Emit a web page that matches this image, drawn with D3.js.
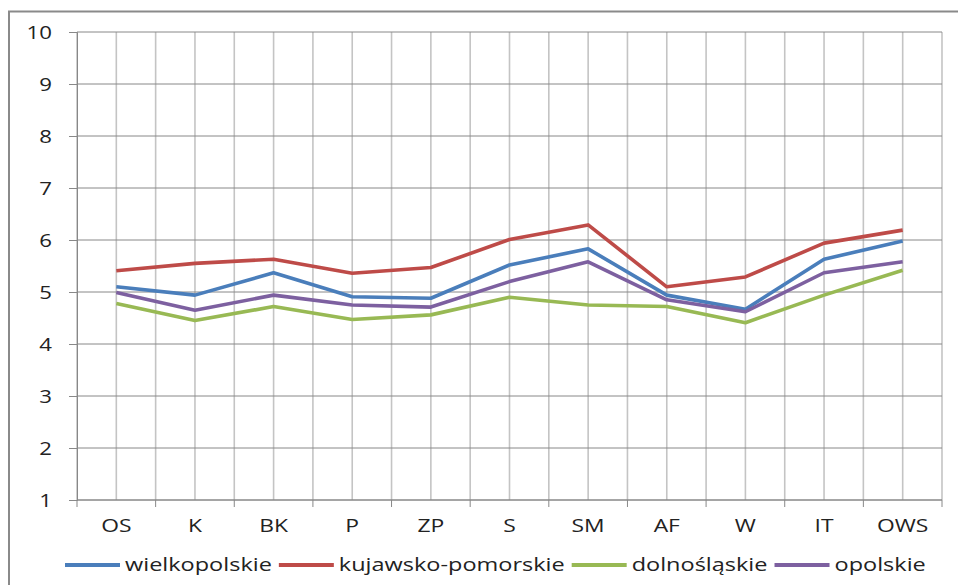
<!DOCTYPE html>
<html>
<head>
<meta charset="utf-8">
<script src="https://cdn.jsdelivr.net/npm/d3@7"></script>
<style>
  body { margin: 0; background: #fff; }
  text { font-family: "Open Sans", "DejaVu Sans", sans-serif; fill: #222; }
</style>
</head>
<body>
<script>
var width = 958,
    height = 585;

// categories and series
var categories = ["OS", "K", "BK", "P", "ZP", "S", "SM", "AF", "W", "IT", "OWS"];
var yTicks = [1, 2, 3, 4, 5, 6, 7, 8, 9, 10];

var wielkopolskie     = [5.10, 4.94, 5.37, 4.91, 4.88, 5.52, 5.83, 4.94, 4.67, 5.63, 5.98];
var kujawskoPomorskie = [5.41, 5.55, 5.63, 5.36, 5.47, 6.01, 6.29, 5.10, 5.29, 5.94, 6.19];
var dolnoslaskie      = [4.78, 4.45, 4.72, 4.47, 4.56, 4.90, 4.75, 4.72, 4.41, 4.94, 5.42];
var opolskie          = [4.99, 4.65, 4.94, 4.75, 4.71, 5.20, 5.58, 4.85, 4.62, 5.37, 5.58];

var seriesNames  = ["wielkopolskie", "kujawsko-pomorskie", "dolnośląskie", "opolskie"];
var seriesColors = ["#4a7ebb", "#be4b48", "#98b954", "#7d60a0"];
var series = [wielkopolskie, kujawskoPomorskie, dolnoslaskie, opolskie];

// the original text looks stretched sideways
var stretch = 1.27;
function widen(sel){
    sel.each(function(){
        var w = this.getComputedTextLength();
        d3.select(this)
            .attr("data-w", w * stretch)
            .attr("textLength", w * stretch)
            .attr("lengthAdjust", "spacingAndGlyphs");
    });
}

var svg = d3.select("body").append("svg")
    .attr("width", width)
    .attr("height", height);

// outer chart frame (only top and left edges are inside the picture)
svg.append("path")
    .attr("d", "M9,585 L9,11.5 L958,11.5")
    .attr("fill", "none")
    .attr("stroke", "#8a8a8a")
    .attr("stroke-width", 2);

var pLeft = 77, pRight = 942, pTop = 32, pBottom = 500;

var x = d3.scaleBand()
    .domain(categories)
    .range([pLeft, pRight]);

var y = d3.scaleLinear()
    .domain([1, 10])
    .range([pBottom, pTop]);

// vertical grid: category boundaries and centres
var vx = [];
categories.forEach(function(c){ vx.push(x(c)); vx.push(x(c) + x.bandwidth()/2); });
vx.push(pRight);

svg.append("g").selectAll("line")
    .data(vx)
    .enter().append("line")
    .attr("x1", d => d).attr("x2", d => d)
    .attr("y1", pTop).attr("y2", pBottom)
    .attr("stroke", "#c4c4c4")
    .attr("stroke-width", 1.6);

// horizontal grid
svg.append("g").selectAll("line")
    .data(yTicks)
    .enter().append("line")
    .attr("x1", pLeft).attr("x2", pRight)
    .attr("y1", d => y(d)).attr("y2", d => y(d))
    .attr("stroke", "#888")
    .attr("stroke-width", 1);

// y axis
var yAxis = svg.append("g")
    .attr("transform", "translate(" + pLeft + ",0)")
    .call(d3.axisLeft(y).tickValues(yTicks).tickSize(8).tickPadding(17));
yAxis.select(".domain").attr("stroke", "#888");
yAxis.selectAll(".tick line").attr("stroke", "#888");
yAxis.selectAll("text")
    .style("font-size", "17.5px")
    .attr("fill", "#222")
    .attr("dy", "0.35em")
    .call(widen);

// x axis: ticks on category boundaries
var xAxis = svg.append("g")
    .attr("transform", "translate(0," + pBottom + ")");
xAxis.append("line")
    .attr("x1", pLeft).attr("x2", pRight)
    .attr("stroke", "#888");
xAxis.selectAll(".bt")
    .data(categories.map(c => x(c)).concat([pRight]))
    .enter().append("line")
    .attr("class", "bt")
    .attr("x1", d => d).attr("x2", d => d)
    .attr("y1", 0).attr("y2", 7)
    .attr("stroke", "#888");
xAxis.selectAll(".lbl")
    .data(categories)
    .enter().append("text")
    .attr("class", "lbl")
    .attr("x", d => x(d) + x.bandwidth()/2)
    .attr("y", 32)
    .attr("text-anchor", "middle")
    .style("font-size", "18px")
    .text(d => d)
    .call(widen);

// lines
var line = d3.line()
    .x((d, i) => x(categories[i]) + x.bandwidth()/2)
    .y(d => y(d));

svg.append("g").selectAll("path")
    .data(series)
    .enter().append("path")
    .attr("d", line)
    .attr("fill", "none")
    .attr("stroke", (d, i) => seriesColors[i])
    .attr("stroke-width", 3.6)
    .attr("stroke-linejoin", "round");

// legend
var legend = svg.append("g");
var lx = 65, ly = 565;
seriesNames.forEach(function(name, i){
    legend.append("line")
        .attr("x1", lx).attr("x2", lx + 55)
        .attr("y1", ly).attr("y2", ly)
        .attr("stroke", seriesColors[i])
        .attr("stroke-width", 4);
    var t = legend.append("text")
        .attr("x", lx + 60)
        .attr("y", ly + 6)
        .style("font-size", "18.5px")
        .text(name)
        .call(widen);
    lx += 60 + (+t.attr("data-w")) + 7;
});
</script>
</body>
</html>
